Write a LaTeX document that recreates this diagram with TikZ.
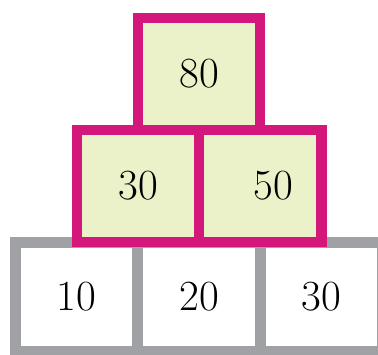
\documentclass[tikz,border=0pt]{standalone}
\usepackage{tikz}
\definecolor{basegray}{HTML}{A0A1A4}
\definecolor{blockpink}{HTML}{D4177A}
\definecolor{blockfill}{HTML}{EBF2C9}

\begin{document}
\begin{tikzpicture}
[x=1pt, y=-1pt,
base/.style={rectangle, draw=basegray, fill=white, line width=11pt, inner sep=0pt,
  minimum width=122.3pt, minimum height=109pt, font=\fontsize{43}{50}\selectfont},
block/.style={base, draw=blockpink, fill=blockfill, line width=10.5pt,
  minimum width=122.3pt, minimum height=112pt}]

\useasboundingbox (0,0) rectangle (378,354);

% bottom row
\foreach \val [count=\i] in {10,20,30}
  \node[base] (b\i) at ({76.7+122.3*(\i-1)},296.5) {\val};

% middle row and top
\node[block] (m1) at (138,186) {30};
\node[block] (m2) at (260.3,186) {\hspace*{26pt}50};
\node[block] (top) at (199,74) {80};
\end{tikzpicture}
\end{document}
